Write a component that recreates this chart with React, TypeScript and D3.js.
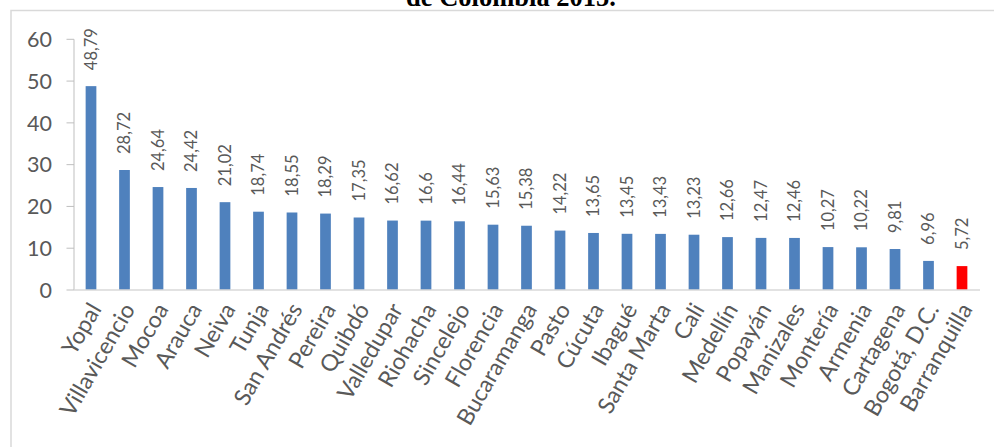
import React from "react";
import * as d3 from "d3";

const cities = ["Yopal","Villavicencio","Mocoa","Arauca","Neiva","Tunja","San Andrés","Pereira","Quibdó","Valledupar","Riohacha","Sincelejo","Florencia","Bucaramanga","Pasto","Cúcuta","Ibagué","Santa Marta","Cali","Medellín","Popayán","Manizales","Montería","Armenia","Cartagena","Bogotá, D.C.","Barranquilla"];
const values = [48.79,28.72,24.64,24.42,21.02,18.74,18.55,18.29,17.35,16.62,16.6,16.44,15.63,15.38,14.22,13.65,13.45,13.43,13.23,12.66,12.47,12.46,10.27,10.22,9.81,6.96,5.72];
const valueLabels = ["48,79","28,72","24,64","24,42","21,02","18,74","18,55","18,29","17,35","16,62","16,6","16,44","15,63","15,38","14,22","13,65","13,45","13,43","13,23","12,66","12,47","12,46","10,27","10,22","9,81","6,96","5,72"];
const yTicks = [0,10,20,30,40,50,60];
const highlight = "Barranquilla";
const titleText = "de Colombia 2015.";

export default function App() {
  const W = 994, H = 447;
  const x = d3.scaleBand<string>().domain(cities).range([74.25, 978.75]).paddingInner(0.68).paddingOuter(0.34);
  const y = d3.scaleLinear().domain([0, 60]).range([290, 39.3]);
  const font = "Lato, 'Open Sans', sans-serif";
  const txt = "#595959";
  return (
    <svg width={W} height={H} style={{ position: "absolute", left: 0, top: 0 }}>
      <rect x={0} y={0} width={W} height={H} fill="#fff" />
      <text x={511} y={6} textAnchor="middle" fontFamily="'Liberation Serif', 'Times New Roman', serif" fontWeight="bold" fontSize={26.5} fill="#000">{titleText}</text>
      <path d={`M11,${H + 2}V10.5H${W + 2}`} fill="none" stroke="#d9d9d9" strokeWidth={1.5} />
      {yTicks.map((t) => (
        <g key={t}>
          <line x1={66.5} x2={74} y1={y(t)} y2={y(t)} stroke="#bfbfbf" strokeWidth={1} />
          <text x={52} y={y(t)} dy="0.36em" textAnchor="end" fontFamily={font} fontSize={21.5} fill={txt}>{t}</text>
        </g>
      ))}
      <line x1={74} x2={74} y1={y(60)} y2={y(0)} stroke="#bfbfbf" strokeWidth={1} />
      {cities.map((c, i) => {
        const bx = x(c)!;
        const bw = x.bandwidth();
        const cx = bx + bw / 2;
        return (
          <g key={c}>
            <rect x={bx} y={y(values[i])} width={bw} height={y(0) - y(values[i])} fill={c === highlight ? "#ff0000" : "#4f81bd"} />
            <text transform={`translate(${cx},${y(values[i]) - 16}) rotate(-90)`} dy="0.36em" textAnchor="start" fontFamily={font} fontSize={16.5} fill={txt}>{valueLabels[i]}</text>
            <text transform={`translate(${cx + 4},${305}) rotate(-60)`} dy="0.36em" textAnchor="end" fontFamily={font} fontSize={23} fill={txt}>{c}</text>
          </g>
        );
      })}
      <line x1={74} x2={980} y1={y(0)} y2={y(0)} stroke="#d9d9d9" strokeWidth={1.5} />
    </svg>
  );
}
